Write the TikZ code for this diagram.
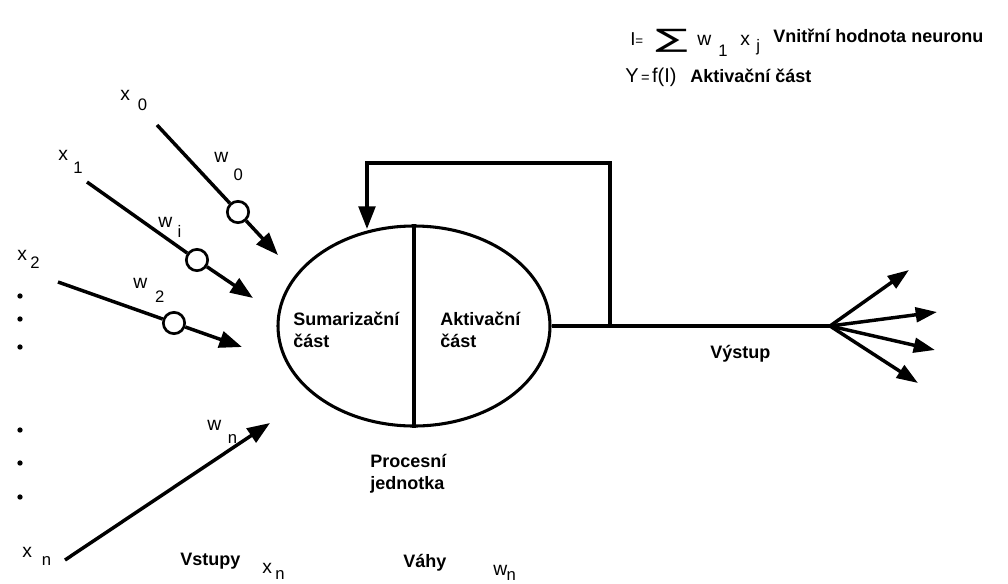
\documentclass[tikz,border=0pt]{standalone}
\usepackage{fontspec}
\setmainfont{Liberation Sans}
\newfontfamily\dejavu{DejaVu Sans}
\usetikzlibrary{arrows.meta,shapes.geometric}
\newcommand\lbl{\fontsize{13.5}{16}\selectfont\bfseries}
\newcommand\varf{\fontsize{14.5}{16}\selectfont}
\newcommand\subf{\fontsize{12.5}{14}\selectfont}
\newcommand\sublab[4]{{\varf #1}\hspace{#3}\raisebox{-#4}{\subf #2}}
\begin{document}
\begin{tikzpicture}[x=0.75pt,y=-0.75pt,
  ln/.style={line width=2.6pt},
  arr/.style={ln,-{Triangle[length=17pt,width=12.5pt]}},
  arro/.style={ln,-{Triangle[length=16pt,width=11pt]}},
  wcirc/.style={circle,draw,line width=2pt,fill=white,minimum size=16pt,inner sep=0pt},
  txt/.style={anchor=base west,inner sep=0pt},
  dotn/.style={circle,fill,inner sep=0pt,minimum size=4pt}]
\useasboundingbox (0,0) rectangle (1008,583);

% neuron
\node[ellipse,draw,line width=2.3pt,minimum width=204pt,minimum height=150pt,inner sep=0pt] (neuron) at (414,326) {};
\draw[ln] (neuron.north) -- (neuron.south);
\node[txt] (sum1) at (293,325) {\lbl Sumarizační};
\node[txt] (sum2) at (293,347) {\lbl část};
\node[txt] (akt1) at (440,325) {\lbl Aktivační};
\node[txt] (akt2) at (440,347) {\lbl část};
\node[txt] (proc1) at (370,467) {\lbl Procesní};
\node[txt] (proc2) at (370,489) {\lbl jednotka};

% feedback
\coordinate (junc) at (610,326);
\coordinate (fbR) at (610,163);
\coordinate (fbL) at (367,163);
\coordinate (fbin) at (367,229);
\draw[arr] (junc) -- (fbR) -- (fbL) -- (fbin);

% output
\coordinate (fan) at (830,326);
\draw[ln] (neuron.east) -- (fan);
\coordinate (o1) at (909,270);
\coordinate (o2) at (937,312);
\coordinate (o3) at (935,350);
\coordinate (o4) at (918,383);
\draw[arro] (fan) -- (o1);
\draw[arro] (fan) -- (o2);
\draw[arro] (fan) -- (o3);
\draw[arro] (fan) -- (o4);
\node[txt] (vystup) at (710,358) {\lbl Výstup};

% inputs
\coordinate (s0) at (157,125); \coordinate (t0) at (278,255);
\node[wcirc] (c0) at (238,212) {};
\draw[ln] (s0) -- (c0); \draw[arr] (c0) -- (t0);

\coordinate (s1) at (87,182); \coordinate (t1) at (253,298);
\node[wcirc] (c1) at (197,260) {};
\draw[ln] (s1) -- (c1); \draw[arr] (c1) -- (t1);

\coordinate (s2) at (58,282); \coordinate (t2) at (242,347);
\node[wcirc] (c2) at (174,323) {};
\draw[ln] (s2) -- (c2); \draw[arr] (c2) -- (t2);

\coordinate (sn) at (65,560); \coordinate (tn) at (270,423);
\draw[arr] (sn) -- (tn);

% dots
\node[dotn] (d1) at (20,296) {};
\node[dotn] (d2) at (20,319) {};
\node[dotn] (d3) at (20,347) {};
\node[dotn] (d4) at (20,430) {};
\node[dotn] (d5) at (20,463) {};
\node[dotn] (d6) at (20,497) {};

% input labels
\node[txt] (lx0) at (120,100) {\sublab{x}{0}{6pt}{7.5pt}};
\node[txt] (lw0) at (214,162) {\sublab{w}{0}{4pt}{13.5pt}};
\node[txt] (lx1) at (58,160) {\sublab{x}{1}{4pt}{10pt}};
\node[txt] (lwi) at (158,227) {\sublab{w}{i}{4pt}{7.5pt}};
\node[txt] (lx2) at (17,260) {\sublab{x}{2}{2.6pt}{6pt}};
\node[txt] (lw2) at (133,288) {\sublab{w}{2}{6pt}{10.5pt}};
\node[txt] (lxn) at (22,557) {\sublab{x}{n}{7.5pt}{6pt}};
\node[txt] (lwn) at (207,430) {\sublab{w}{n}{5pt}{10pt}};

% bottom labels
\node[txt] (vstupy) at (180,565) {\lbl Vstupy};
\node[txt] (vxn) at (262,573) {\sublab{x}{n}{2.6pt}{5pt}};
\node[txt] (vahy) at (403,567) {\lbl Váhy};
\node[txt] (vwn) at (493,575) {\sublab{w}{n}{-0.5pt}{4pt}};

% top formula
\node[txt] (fI) at (630,45) {\fontsize{14}{16}\selectfont I{\fontsize{10}{12}\selectfont =}};
\node[txt] (fsum) at (655,47) {\scalebox{1.9}[1]{\dejavu\fontsize{19}{20}\selectfont ∑}};
\node[txt] (fw) at (697,45) {\varf w};
\node[txt] (f1) at (718,56) {\subf 1};
\node[txt] (fx) at (740,45) {\varf x};
\node[txt] (fj) at (756,51) {\subf j};
\node[txt] (fvn) at (773,42) {\lbl Vnitřní hodnota neuronu};
\node[txt] (fY) at (625,82) {\fontsize{15}{16}\selectfont Y{\fontsize{11}{12}\selectfont\,=\,}f(I)};
\node[txt] (fakt) at (690,82) {\lbl Aktivační část};
\end{tikzpicture}
\end{document}
